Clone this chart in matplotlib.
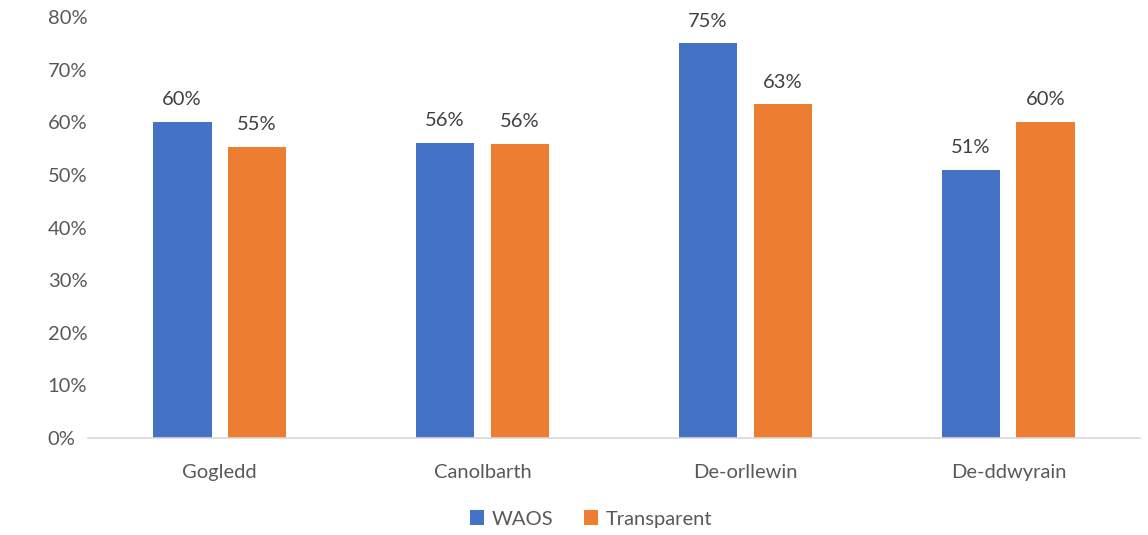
import matplotlib
matplotlib.use("Agg")
import matplotlib.pyplot as plt
import numpy as np
from matplotlib.ticker import PercentFormatter

categories = ["Gogledd", "Canolbarth", "De-orllewin", "De-ddwyrain"]
waos = [0.60, 0.56, 0.75, 0.51]
transparent = [0.554, 0.559, 0.634, 0.60]
waos_labels = ["60%", "56%", "75%", "51%"]
transparent_labels = ["55%", "56%", "63%", "60%"]
series_names = ["WAOS", "Transparent"]

plt.rcParams['font.family'] = ['Lato', 'DejaVu Sans']
grey = "#595959"
fs = 14.5

fig = plt.figure(figsize=(11.48, 5.35), dpi=100)
ax = fig.add_axes([0.0767, 0.1813, 0.9163, 0.7867])

x = np.arange(len(categories))
w = 0.224
off = 0.1425
b1 = ax.bar(x - off, waos, w, color="#4472C4", label=series_names[0])
b2 = ax.bar(x + off, transparent, w, color="#ED7D31", label=series_names[1])

for rect, lab in zip(b1, waos_labels):
    ax.annotate(lab, (rect.get_x() + rect.get_width() / 2, rect.get_height()),
                xytext=(0, 10), textcoords="offset points", ha="center", va="bottom",
                fontsize=fs, color="#404040")
for rect, lab in zip(b2, transparent_labels):
    ax.annotate(lab, (rect.get_x() + rect.get_width() / 2, rect.get_height()),
                xytext=(0, 10), textcoords="offset points", ha="center", va="bottom",
                fontsize=fs, color="#404040")

ax.set_xlim(-0.5, len(categories) - 0.5)
ax.set_ylim(0, 0.8)
ax.set_yticks(np.arange(0, 0.81, 0.1))
ax.yaxis.set_major_formatter(PercentFormatter(1.0, decimals=0))
ax.set_xticks(x)
ax.set_xticklabels(categories)
ax.tick_params(axis="both", length=0, labelsize=fs, colors=grey)
ax.tick_params(axis="x", pad=19)
ax.tick_params(axis="y", pad=29)
for t in ax.get_yticklabels():
    t.set_horizontalalignment("left")
for s in ["top", "right", "left"]:
    ax.spines[s].set_visible(False)
ax.spines["bottom"].set_color("#D9D9D9")
ax.spines["bottom"].set_linewidth(1.2)

leg = fig.legend(handles=[b1, b2], labels=series_names, loc="lower center",
                 bbox_to_anchor=(0.515, -0.02), ncol=2, frameon=False, fontsize=fs,
                 handlelength=0.7, handleheight=0.7, handletextpad=0.4, columnspacing=1.5)
for t in leg.get_texts():
    t.set_color(grey)

fig.savefig("out.png", dpi=100)
